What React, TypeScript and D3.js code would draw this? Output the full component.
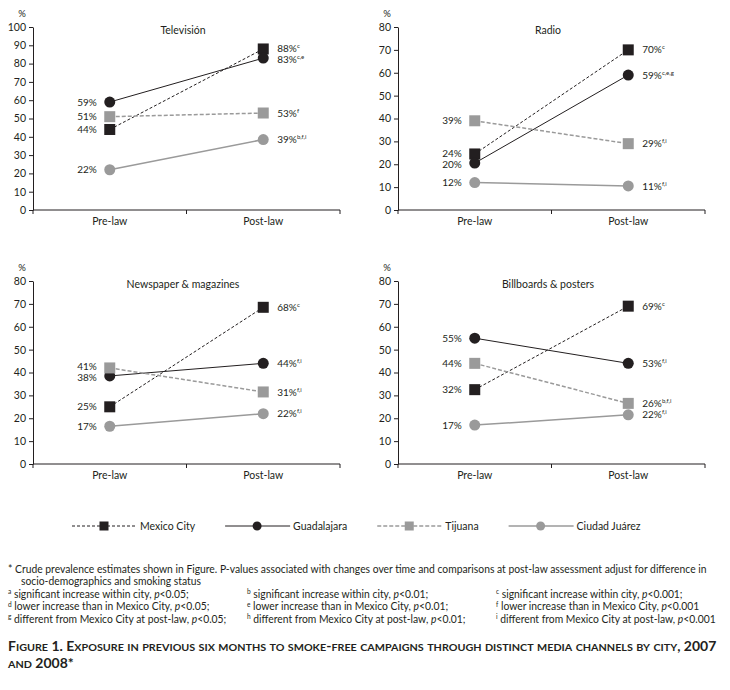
import * as React from 'react';
import { useEffect, useRef } from 'react';
import * as d3 from 'd3';

const periods = ['Pre-law', 'Post-law'];
const cities = ['Mexico City', 'Guadalajara', 'Tijuana', 'Ciudad Juárez'];
const panelTitles = ['Televisión', 'Radio', 'Newspaper & magazines', 'Billboards & posters'];
const panelMax = [100, 80, 80, 80];

// plotted positions [pre, post] per city, in %
const televisionValues = [[44, 88], [59, 83], [51, 53], [22, 38.5]];
const radioValues = [[24.5, 70], [20.5, 59], [39, 29], [12, 10.5]];
const newspaperValues = [[25, 68.5], [38.5, 44], [42, 31.5], [16.5, 22]];
const billboardValues = [[32.5, 69], [55, 44], [44, 26.5], [17, 21.5]];

// printed numbers (Guadalajara billboards is printed 53% though plotted near 44)
const televisionLabels = [[44, 88], [59, 83], [51, 53], [22, 39]];
const radioLabels = [[24, 70], [20, 59], [39, 29], [12, 11]];
const newspaperLabels = [[25, 68], [38, 44], [41, 31], [17, 22]];
const billboardLabels = [[32, 69], [55, 53], [44, 26], [17, 22]];

const televisionSups = ['c', 'c,e', 'f', 'b,f,i'];
const radioSups = ['c', 'c,e,g', 'f,i', 'f,i'];
const newspaperSups = ['c', 'f,i', 'f,i', 'f,i'];
const billboardSups = ['c', 'f,i', 'b,f,i', 'f,i'];

const noteLine1 = '* Crude prevalence estimates shown in Figure. P-values associated with changes over time and comparisons at post-law assessment adjust for difference in';
const noteLine2 = 'socio-demographics and smoking status';
const noteMarks = ['a', 'b', 'c', 'd', 'e', 'f', 'g', 'h', 'i'];
const noteTexts = ['significant increase within city, ', 'lower increase than in Mexico City, ', 'different from Mexico City at post-law, '];
const notePValues = ['<0.05;', '<0.01;', '<0.001;', '<0.05;', '<0.01;', '<0.001', '<0.05;', '<0.01;', '<0.001'];
const captionLines = ['Figure 1. Exposure in previous six months to smoke-free campaigns through distinct media channels by city, 2007', 'and 2008*'];

const ink = '#231f20';
const grey = '#9a9a9a';
const font = 'Lato, "Open Sans", sans-serif';

const cityStyles = [
  { shape: 'square', color: ink, dash: '3,2', width: 1 },
  { shape: 'circle', color: ink, dash: null, width: 1 },
  { shape: 'square', color: grey, dash: '4,2', width: 1.5 },
  { shape: 'circle', color: grey, dash: null, width: 1.5 },
];

const W = 730;
const H = 690;
const panelLefts = [33, 398];
const panelTops = [27, 281];
const plotW = 307;
const plotH = 183;

// push labels apart so they don't collide
function spread(ys: number[], gap: number): number[] {
  const out = ys.slice();
  const order = d3.range(ys.length).sort((a, b) => ys[a] - ys[b]);
  for (let it = 0; it < 20; it++) {
    for (let k = 1; k < order.length; k++) {
      const a = order[k - 1], b = order[k];
      const d = out[b] - out[a];
      if (d < gap) {
        const push = (gap - d) / 2;
        out[a] -= push;
        out[b] += push;
      }
    }
  }
  return out;
}

function drawMarker(g: any, shape: string, cx: number, cy: number, size: number, color: string) {
  if (shape === 'square') {
    g.append('rect').attr('x', cx - size / 2).attr('y', cy - size / 2)
      .attr('width', size).attr('height', size).attr('fill', color);
  } else {
    g.append('circle').attr('cx', cx).attr('cy', cy).attr('r', size / 2).attr('fill', color);
  }
}

const App: React.FC = () => {
  const svgRef = useRef<SVGSVGElement>(null);

  useEffect(() => {
    if (!svgRef.current) return;
    const svg = d3.select(svgRef.current);
    svg.selectAll('*').remove();
    svg.append('rect').attr('width', W).attr('height', H).attr('fill', '#fff');

    const panels = panelTitles.map((title, i) => ({
      title,
      max: panelMax[i],
      values: [televisionValues, radioValues, newspaperValues, billboardValues][i],
      labels: [televisionLabels, radioLabels, newspaperLabels, billboardLabels][i],
      sups: [televisionSups, radioSups, newspaperSups, billboardSups][i],
    }));

    panels.forEach((p, i) => {
      const left = panelLefts[i % 2];
      const top = panelTops[Math.floor(i / 2)];
      const bottom = top + plotH;
      const x = d3.scaleBand<string>().domain(periods).range([left, left + plotW]);
      const y = d3.scaleLinear().domain([0, p.max]).range([bottom, top]);
      const cx = (j: number) => (x(periods[j]) as number) + x.bandwidth() / 2;
      const g = svg.append('g');

      // y axis
      const yAxis = g.append('g')
        .attr('transform', `translate(${left},0)`)
        .call(d3.axisLeft(y).tickValues(d3.range(0, p.max + 1, 10)).tickSize(4).tickSizeOuter(0).tickPadding(3) as any);
      yAxis.attr('font-family', font).attr('font-size', 10.5);
      yAxis.selectAll('line, path').attr('stroke', ink);
      yAxis.selectAll('text').attr('fill', ink);

      g.append('text').attr('x', left - 11).attr('y', top - 10.5)
        .attr('text-anchor', 'middle').attr('font-family', font).attr('font-size', 9.5).attr('fill', ink).text('%');

      // x axis, ticks on band edges
      g.append('line').attr('x1', left).attr('x2', left + plotW)
        .attr('y1', bottom).attr('y2', bottom).attr('stroke', ink);
      const xTicks = [...periods.map(d => x(d) as number), x.range()[1]];
      g.selectAll('line.xt').data(xTicks).join('line').attr('class', 'xt')
        .attr('x1', d => d).attr('x2', d => d).attr('y1', bottom).attr('y2', bottom + 4).attr('stroke', ink);
      g.selectAll('text.xl').data(periods).join('text').attr('class', 'xl')
        .attr('x', (_, j) => cx(j)).attr('y', bottom + 15)
        .attr('text-anchor', 'middle').attr('font-family', font).attr('font-size', 10.5).attr('fill', ink)
        .text(d => d);

      g.append('text').attr('x', left + 150).attr('y', top + 7)
        .attr('text-anchor', 'middle').attr('font-family', font).attr('font-size', 10.5).attr('fill', ink)
        .text(p.title);

      // series
      const line = d3.line<number>().x((_, j) => cx(j)).y(d => y(d));
      p.values.forEach((vals, c) => {
        const st = cityStyles[c];
        g.append('path').datum(vals).attr('d', line)
          .attr('fill', 'none').attr('stroke', st.color).attr('stroke-width', st.width)
          .attr('stroke-dasharray', st.dash);
      });
      p.values.forEach((vals, c) => {
        const st = cityStyles[c];
        vals.forEach((v, j) => drawMarker(g, st.shape, cx(j), y(v), 11, st.color));
      });

      // value labels
      periods.forEach((_, j) => {
        const ys = spread(p.values.map(v => y(v[j])), 11);
        cities.forEach((__, c) => {
          const t = g.append('text')
            .attr('x', j === 0 ? cx(j) - 13 : cx(j) + 14)
            .attr('y', ys[c]).attr('dy', '0.36em')
            .attr('text-anchor', j === 0 ? 'end' : 'start')
            .attr('font-family', font).attr('font-size', 10).attr('fill', ink);
          t.append('tspan').text(`${p.labels[c][j]}%`);
          if (j === 1) {
            t.append('tspan').attr('dy', -4).attr('font-size', 6).text(p.sups[c]);
          }
        });
      });
    });

    // legend
    const legend = svg.append('g').attr('transform', 'translate(0,526)');
    let lx = 72;
    cities.forEach((name, c) => {
      const st = cityStyles[c];
      const item = legend.append('g');
      item.append('line').attr('x1', lx).attr('x2', lx + 65).attr('y1', 0).attr('y2', 0)
        .attr('stroke', st.color).attr('stroke-width', st.width).attr('stroke-dasharray', st.dash);
      drawMarker(item, st.shape, lx + 32, 0, 9, st.color);
      const t = item.append('text').attr('x', lx + 68).attr('y', 0).attr('dy', '0.35em')
        .attr('font-family', font).attr('font-size', 10.5).attr('fill', ink).text(name);
      lx += 68 + (t.node() as SVGTextElement).getComputedTextLength() + 30;
    });

    // footnotes, squeezed to the printed width
    const notes = svg.append('g').attr('font-family', font).attr('font-size', 11).attr('fill', ink);
    const first = notes.append('text').attr('x', 0).attr('y', 573).text(noteLine1);
    const k = 700 / (first.node() as SVGTextElement).getComputedTextLength();
    notes.attr('transform', `translate(8,0) scale(${k},1)`);
    notes.append('text').attr('x', 13 / k).attr('y', 585.5).text(noteLine2);
    const colX = [0, 239, 488];
    noteMarks.forEach((m, n) => {
      const row = Math.floor(n / 3);
      const t = notes.append('text').attr('x', colX[n % 3] / k).attr('y', 598 + row * 12.5);
      t.append('tspan').attr('font-size', 7).attr('dy', -3.5).text(m);
      t.append('tspan').attr('dy', 3.5).text(' ' + noteTexts[row]);
      t.append('tspan').attr('font-style', 'italic').text('p');
      t.append('tspan').text(notePValues[n]);
    });

    // caption in small caps
    const cap = svg.append('g').attr('font-family', font).attr('font-weight', 'bold').attr('fill', ink);
    const capTexts = captionLines.map((str, li) => {
      const t = cap.append('text').attr('x', 0).attr('y', 651 + li * 17);
      const groups: { t: string; s: boolean }[] = [];
      for (const ch of str) {
        const s = /[a-z]/.test(ch);
        const last = groups[groups.length - 1];
        if (last && last.s === s) last.t += ch;
        else groups.push({ t: ch, s });
      }
      groups.forEach(gp => t.append('tspan').attr('font-size', gp.s ? 10 : 13).text(gp.s ? gp.t.toUpperCase() : gp.t));
      return t;
    });
    const kc = 710 / (capTexts[0].node() as SVGTextElement).getComputedTextLength();
    cap.attr('transform', `translate(8,0) scale(${kc},1)`);
  }, []);

  return (
    <svg
      ref={svgRef}
      width={W}
      height={H}
      viewBox={`0 0 ${W} ${H}`}
      style={{ position: 'absolute', left: 0, top: 0 }}
    />
  );
};

export default App;
